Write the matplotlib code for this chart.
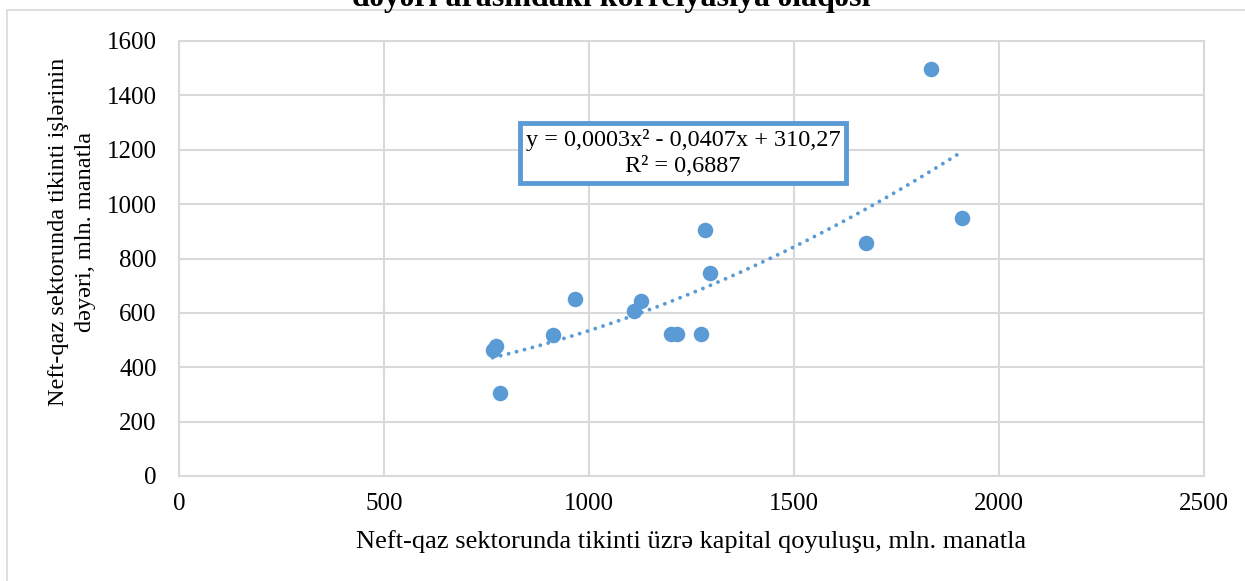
import numpy as np
import matplotlib
matplotlib.use('Agg')
import matplotlib.pyplot as plt
from matplotlib.patches import Rectangle

# Capital investment (x) vs construction works value (y), mln. manat
invest = [765, 773, 783, 911, 967, 1110, 1126, 1201, 1214, 1274, 1282, 1294, 1676, 1835, 1909]
works = [462, 478, 305, 520, 650, 606, 642, 524, 522, 524, 906, 745, 858, 1497, 950]

x_ticks = [0, 500, 1000, 1500, 2000, 2500]
y_ticks = [0, 200, 400, 600, 800, 1000, 1200, 1400, 1600]

eq_text = 'y = 0,0003x² - 0,0407x + 310,27\nR² = 0,6887'
title = 'dəyəri arasındakı korrelyasiya əlaqəsi'
xlabel = 'Neft-qaz sektorunda tikinti üzrə kapital qoyuluşu, mln. manatla'
ylabel = 'Neft-qaz sektorunda tikinti işlərinin\ndəyəri, mln. manatla'

blue = '#5B9BD5'
grid_c = '#D9D9D9'
W, H = 1245, 581

plt.rcParams['font.family'] = ['Liberation Serif', 'DejaVu Serif']

fig = plt.figure(figsize=(W / 100, H / 100), dpi=100)

# outer chart frame
fig.patches.append(Rectangle((7 / W, -0.1), 2, 1 - 10 / H + 0.1, transform=fig.transFigure,
                             fill=False, edgecolor=grid_c, lw=1.2))

ax = fig.add_axes([179 / W, 1 - 476 / H, (1204 - 179) / W, (476 - 41) / H])
ax.set_xlim(0, 2500)
ax.set_ylim(0, 1600)
ax.set_xticks(x_ticks)
ax.set_yticks(y_ticks)
ax.tick_params(length=0, labelsize=18)
ax.tick_params(axis='y', pad=16)
ax.tick_params(axis='x', pad=12)
ax.grid(True, color=grid_c, lw=1.5)
ax.set_axisbelow(True)
for s in ax.spines.values():
    s.set_color(grid_c)
    s.set_linewidth(1.5)

# polynomial trendline (order 2)
coef = np.polyfit(invest, works, 2)
xt = np.linspace(min(invest), max(invest), 200)
ax.plot(xt, np.polyval(coef, xt), color=blue, lw=2.8, linestyle=(0, (0.01, 2.1)),
        dash_capstyle='round', zorder=2)

ax.scatter(invest, works, s=125, color=blue, zorder=3, linewidths=0)

ax.text(683 / W, 1 - 153 / H, eq_text, transform=fig.transFigure, ha='center', va='center',
        fontsize=17.5, linespacing=1.3, zorder=5,
        bbox=dict(boxstyle='square,pad=0.25', facecolor='white', edgecolor=blue, lw=3.5))

fig.text(691.5 / W, 1 - 542 / H, xlabel, ha='center', va='center', fontsize=19)
fig.text(72 / W, 1 - 232 / H, ylabel, ha='center', va='center', rotation=90,
         fontsize=17.5, multialignment='center', linespacing=1.35)
fig.text(611 / W, 1 - 6 / H, title, ha='center', va='baseline', fontsize=23, fontweight='bold')

fig.savefig('out.png', dpi=100)
